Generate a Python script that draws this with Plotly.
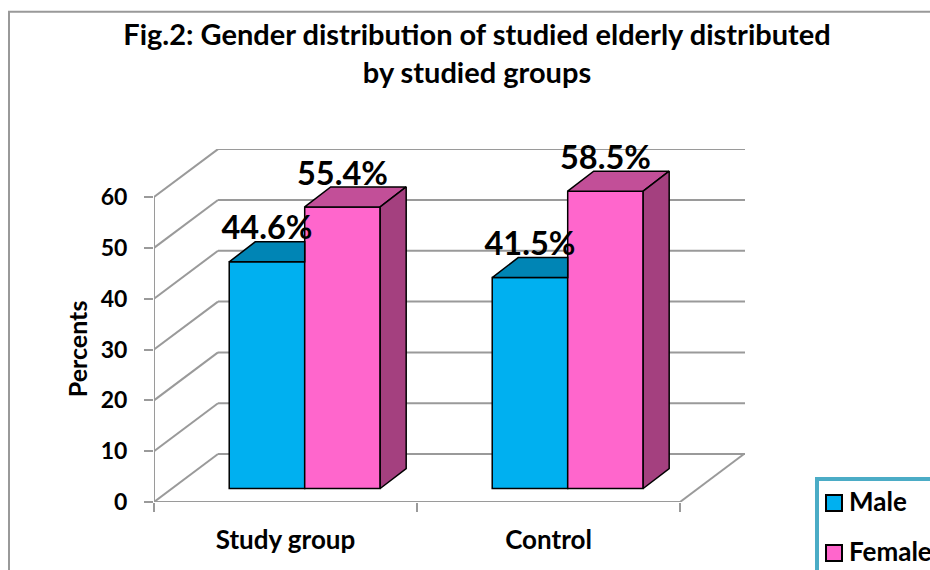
import plotly.graph_objects as go

categories = ["Study group", "Control"]
male = [44.6, 41.5]
female = [55.4, 58.5]
series_names = ["Male", "Female"]
y_ticks = [0, 10, 20, 30, 40, 50, 60]
title = "Fig.2: Gender distribution of studied elderly distributed<br>by studied groups"
y_title = "Percents"

FONT = "Lato"
GRID = "#9a9a9a"
X_MAX = 591 / 263
Y_MAX = 353.5 / 5.09
WALL_DX, WALL_DY = 64 / 263, 48 / 5.09
BAR_DX, BAR_DY = 26 / 263, 20 / 5.09
BASE_Y = 13.5 / 5.09
SHIFT = 0.073
BARGAP = 0.426
BW = (1 - BARGAP) / 2
centers = [i + 0.5 + SHIFT for i in range(len(categories))]

fig = go.Figure()


def line(x0, y0, x1, y1):
    return dict(type="line", xref="x", yref="y", x0=x0, y0=y0, x1=x1, y1=y1,
                layer="below", line=dict(color=GRID, width=2))


shapes = []
for v in y_ticks:
    shapes.append(line(0, v, WALL_DX, v + WALL_DY))
    shapes.append(line(WALL_DX, v + WALL_DY, X_MAX, v + WALL_DY))
shapes.append(line(0, 0, 0, y_ticks[-1]))
shapes.append(line(0, 0, len(categories), 0))
shapes.append(line(len(categories), 0, len(categories) + WALL_DX, WALL_DY))

for name, vals, color in [(series_names[0], male, "#00B0F0"), (series_names[1], female, "#FF66CC")]:
    fig.add_trace(go.Bar(x=centers, y=vals, base=[BASE_Y] * len(vals), name=name,
                         marker=dict(color=color, line=dict(color="black", width=1.5)),
                         showlegend=False, hoverinfo="skip"))


def face(xs, ys, color):
    fig.add_trace(go.Scatter(x=xs, y=ys, mode="lines", fill="toself", fillcolor=color,
                             line=dict(color="black", width=1.5), showlegend=False,
                             hoverinfo="skip"))


for c, m, f in zip(centers, male, female):
    x0 = c - BW
    face([x0, x0 + BAR_DX, c, c, x0], [BASE_Y + m, BASE_Y + m + BAR_DY, BASE_Y + m + BAR_DY, BASE_Y + m, BASE_Y + m], "#0085B5")
    x1 = c + BW
    face([c, c + BAR_DX, x1 + BAR_DX, x1, c], [BASE_Y + f, BASE_Y + f + BAR_DY, BASE_Y + f + BAR_DY, BASE_Y + f, BASE_Y + f], "#C24F98")
    face([x1, x1 + BAR_DX, x1 + BAR_DX, x1, x1], [BASE_Y, BASE_Y + BAR_DY, BASE_Y + f + BAR_DY, BASE_Y + f, BASE_Y], "#A4407F")

label_x = [c - BW / 2 for c in centers] + [c + BW / 2 for c in centers]
label_v = male + female
fig.add_trace(go.Scatter(x=label_x, y=[BASE_Y + v + 6.0 for v in label_v], mode="text",
                         text=[f"{v:.1f}%" for v in label_v], textposition="middle center",
                         textfont=dict(family=FONT, size=32.5, color="black", weight="bold"),
                         showlegend=False, hoverinfo="skip", cliponaxis=False))


def px(x):
    return (x - 154) / 591


def py(y):
    return (502 - y) / 353.5


shapes.append(dict(type="rect", xref="paper", yref="paper", x0=px(9), x1=px(1100), y0=py(11), y1=py(800),
                   layer="below", line=dict(color="#999999", width=2), fillcolor="rgba(0,0,0,0)"))
shapes.append(dict(type="rect", xref="paper", yref="paper", x0=px(817), x1=px(1100), y0=py(479), y1=py(800),
                   line=dict(color="#4BACC6", width=4), fillcolor="white"))
annotations = [dict(text=y_title, textangle=-90, xref="paper", yref="paper", x=px(77), y=py(349), showarrow=False,
                    xanchor="center", yanchor="middle",
                    font=dict(family=FONT, size=25, color="black", weight="bold"))]
for name, color, top in zip(series_names, ["#00B0F0", "#FF66CC"], [495, 545]):
    shapes.append(dict(type="rect", xref="paper", yref="paper", x0=px(826), x1=px(842), y0=py(top), y1=py(top + 16),
                       line=dict(color="black", width=2), fillcolor=color))
    annotations.append(dict(text=name, xref="paper", yref="paper", x=px(847), y=py(top + 6), xanchor="left",
                            yanchor="middle", showarrow=False,
                            font=dict(family=FONT, size=26, color="black", weight="bold")))

fig.update_layout(
    width=930, height=570, barmode="group", bargap=BARGAP, bargroupgap=0,
    margin=dict(l=154, r=185, t=148.5, b=68, autoexpand=False),
    paper_bgcolor="white", plot_bgcolor="rgba(0,0,0,0)",
    title=dict(text=title, x=477 / 930, xanchor="center", y=1 - 45 / 570, yanchor="top",
               font=dict(family=FONT, size=29, color="black", weight="bold")),
    xaxis=dict(range=[0, X_MAX], tickvals=[0.5, 1.5], ticktext=categories, ticks="", showgrid=False, zeroline=False,
               showline=False, ticklabelstandoff=20,
               tickfont=dict(family=FONT, size=26, color="black", weight="bold"),
               minor=dict(tickmode="array", tickvals=[0, 1, 2], ticks="outside", ticklen=9, tickwidth=2, tickcolor=GRID, showgrid=False)),
    yaxis=dict(range=[0, Y_MAX], tickvals=y_ticks, ticks="outside", ticklen=9, tickwidth=2, tickcolor=GRID,
               showgrid=False, zeroline=False, showline=False, ticklabelstandoff=12,
               tickfont=dict(family=FONT, size=23, color="black", weight="bold")),
    shapes=shapes, annotations=annotations,
)
fig.write_html("out.html", post_script="document.body.style.margin='0';", config={"displayModeBar": False})
